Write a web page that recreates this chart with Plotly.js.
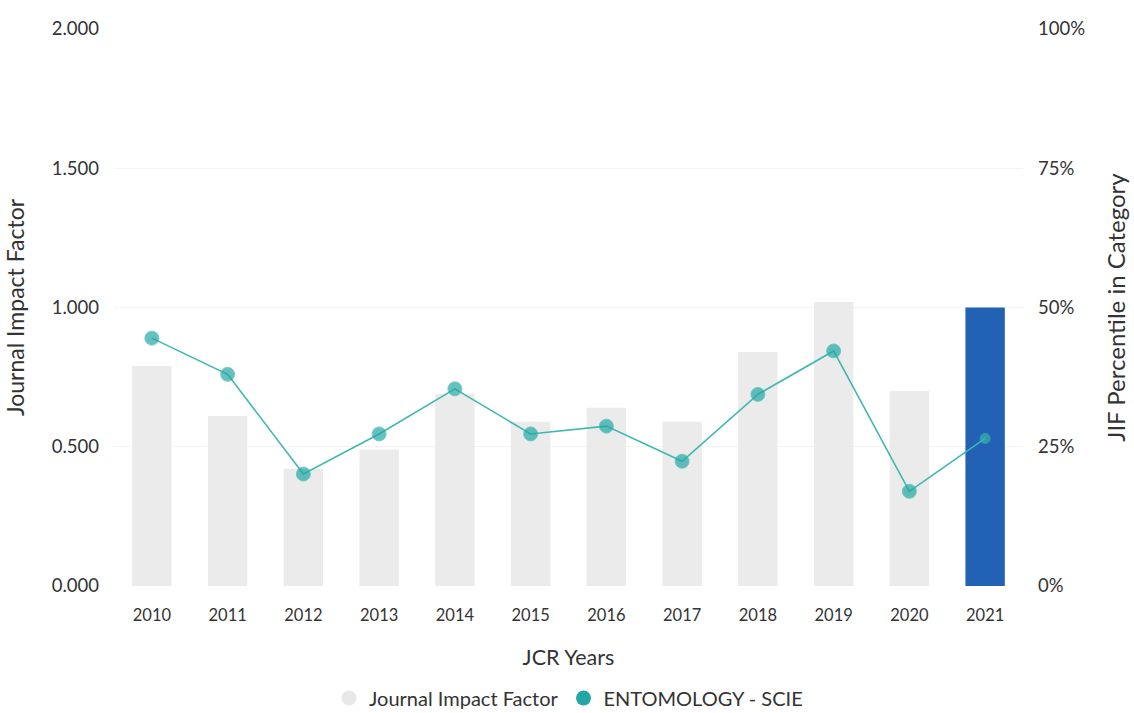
<!DOCTYPE html>
<html>
<head>
<meta charset="utf-8">
<script src="https://cdn.plot.ly/plotly-3.0.1.min.js"></script>
<style>html,body{margin:0;padding:0;background:#fff;}#chart{width:1134px;height:713px;}</style>
</head>
<body>
<div id="chart"></div>
<script>
const years = ["2010","2011","2012","2013","2014","2015","2016","2017","2018","2019","2020","2021"];
const jif = [0.79, 0.61, 0.42, 0.49, 0.69, 0.59, 0.64, 0.59, 0.84, 1.02, 0.70, 1.00];
const percentile = [44.5, 38.0, 20.1, 27.3, 35.4, 27.3, 28.7, 22.4, 34.4, 42.2, 17.0, 26.5];
const leftTicks = [0, 0.5, 1, 1.5, 2];
const leftTickText = ["0.000", "0.500", "1.000", "1.500", "2.000"];
const rightTicks = [0, 25, 50, 75, 100];
const rightTickText = ["0%", "25%", "50%", "75%", "100%"];

const barColors = years.map((y, i) => i === years.length - 1 ? "#2361b5" : "#ebebeb");
const markerSizes = years.map((y, i) => i === years.length - 1 ? 10 : 14);
const markerColors = years.map((y, i) => i === years.length - 1 ? "#33b7a4" : "#22a7a6");

const font = "Lato, 'Open Sans', sans-serif";

const traces = [
  {
    type: "bar", x: years, y: jif, yaxis: "y",
    marker: {color: barColors}, width: 0.52,
    showlegend: false, hoverinfo: "x+y"
  },
  {
    type: "scatter", mode: "lines+markers", x: years, y: percentile, yaxis: "y2",
    line: {color: "#3fb8b0", width: 1.6},
    marker: {color: markerColors, size: markerSizes},
    showlegend: false
  },
  {
    type: "scatter", mode: "markers", x: [null], y: [null],
    name: "Journal Impact Factor",
    marker: {color: "#e8e8e8", size: 15}
  },
  {
    type: "scatter", mode: "markers", x: [null], y: [null],
    name: "ENTOMOLOGY - SCIE",
    marker: {color: "#22a7a6", size: 15}
  }
];

const layout = {
  width: 1134, height: 713,
  margin: {l: 114, r: 111, t: 29, b: 127},
  paper_bgcolor: "#ffffff", plot_bgcolor: "#ffffff",
  font: {family: font, color: "#333333", size: 15},
  xaxis: {
    type: "category", range: [-0.5, years.length - 0.5],
    showgrid: false, zeroline: false, showline: false,
    automargin: false,
    ticks: "", ticklabelstandoff: 17,
    tickfont: {size: 16.5, color: "#333"},
    title: {text: "JCR Years", font: {size: 21.5, color: "#333"}, standoff: 26}
  },
  yaxis: {
    range: [0, 2], tickvals: leftTicks, ticktext: leftTickText,
    showgrid: true, gridcolor: "#f4f4f4", zeroline: false, showline: false,
    automargin: false,
    ticks: "", ticklabelstandoff: 14,
    tickfont: {size: 18.5, color: "#333"},
    title: {text: "Journal Impact Factor", font: {size: 23, color: "#333"}, standoff: 20}
  },
  yaxis2: {
    range: [0, 100], tickvals: rightTicks, ticktext: rightTickText,
    overlaying: "y", side: "right",
    showgrid: false, zeroline: false, showline: false,
    automargin: false,
    ticks: "", ticklabelstandoff: 14,
    tickfont: {size: 18.5, color: "#333"},
    title: {text: "JIF Percentile in Category", font: {size: 24, color: "#333"}, standoff: 24}
  },
  legend: {
    orientation: "h", x: 0.5, xanchor: "center",
    yref: "container", y: 0.021, yanchor: "middle",
    font: {size: 20, color: "#333"}, itemwidth: 30, tracegroupgap: 0
  },
  showlegend: true
};

Plotly.newPlot("chart", traces, layout, {displayModeBar: false, responsive: false});
</script>
</body>
</html>
